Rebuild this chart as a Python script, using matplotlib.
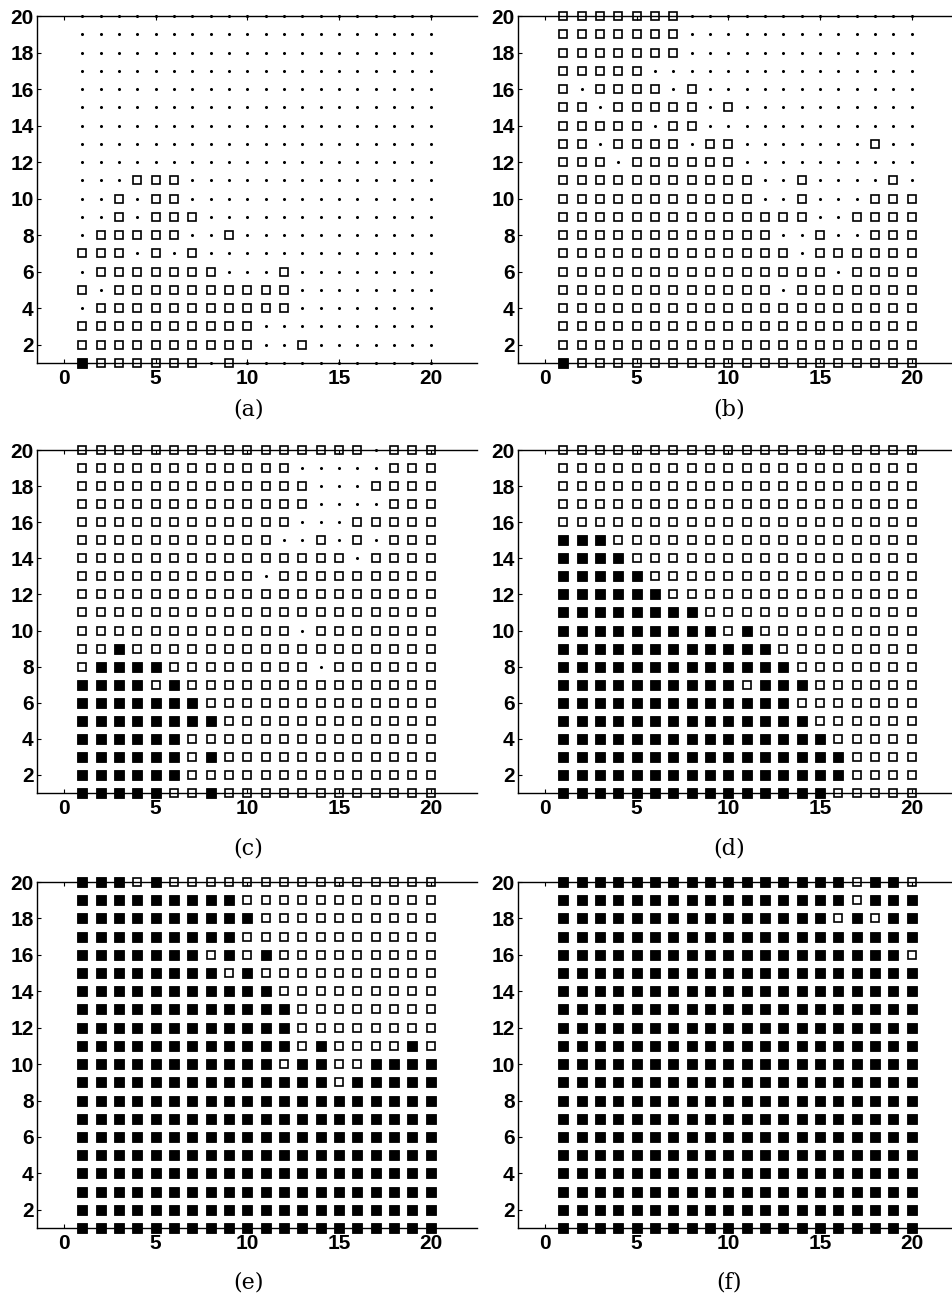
import matplotlib
matplotlib.use("Agg")
import matplotlib.pyplot as plt

# grid states, top row is y=20, bottom row is y=1, columns x=1..20
# '.' = dot, 'o' = open square, '#' = filled square
panel_a = [
    "....................",
    "....................",
    "....................",
    "....................",
    "....................",
    "....................",
    "....................",
    "....................",
    "....................",
    "...ooo..............",
    "..o.oo..............",
    "..o.ooo.............",
    ".ooooo..o...........",
    "ooo.o.o.............",
    ".ooooooo...o........",
    "o.oooooooooo........",
    ".ooooooooooo........",
    "oooooooooo..........",
    "oooooooooo..o.......",
    "#oooooo.o...........",
]

panel_b = [
    "ooooooo.............",
    "ooooooo.............",
    "ooooooo.............",
    "ooooo...............",
    "o.oooo.o............",
    "oo.ooooo.o..........",
    "ooooo.oo............",
    "oo.oooo.oo.......o..",
    "ooo.oooooo..........",
    "ooooooooooo..o....o.",
    "ooooooooooo..o...ooo",
    "oooooooooooooo..oooo",
    "oooooooooooo..o..ooo",
    "ooooooooooooo.oooooo",
    "ooooooooooooooo.oooo",
    "oooooooooooo.ooooooo",
    "oooooooooooooooooooo",
    "oooooooooooooooooooo",
    "oooooooooooooooooooo",
    "#ooooooooooooooooooo",
]

panel_c = [
    "oooooooooooooooo.ooo",
    "oooooooooooo.....ooo",
    "ooooooooooooo...oooo",
    "ooooooooooooo....ooo",
    "oooooooooooo...ooooo",
    "ooooooooooo..o.o.ooo",
    "ooooooooooooooo.oooo",
    "oooooooooo.ooooooooo",
    "oooooooooooooooooooo",
    "oooooooooooooooooooo",
    "oooooooooooo.ooooooo",
    "oo#ooooooooooooooooo",
    "o####oooooooo.oooooo",
    "####o#oooooooooooooo",
    "#######ooooooooooooo",
    "########oooooooooooo",
    "######oooooooooooooo",
    "######o#oooooooooooo",
    "######oooooooooooooo",
    "#####oo#oooooooooooo",
]

panel_d = [
    "oooooooooooooooooooo",
    "oooooooooooooooooooo",
    "oooooooooooooooooooo",
    "oooooooooooooooooooo",
    "oooooooooooooooooooo",
    "###ooooooooooooooooo",
    "####oooooooooooooooo",
    "#####ooooooooooooooo",
    "######oooooooooooooo",
    "########oooooooooooo",
    "#########o#ooooooooo",
    "############oooooooo",
    "#############ooooooo",
    "##########o###oooooo",
    "#############ooooooo",
    "##############oooooo",
    "###############ooooo",
    "################oooo",
    "################oooo",
    "###############ooooo",
]

panel_e = [
    "###o#ooooooooooooooo",
    "#########ooooooooooo",
    "##########oooooooooo",
    "#########ooooooooooo",
    "#######o#o#ooooooooo",
    "########o#oooooooooo",
    "###########ooooooooo",
    "############oooooooo",
    "############oooooooo",
    "############o#oooo#o",
    "###########o##oo####",
    "##############o#####",
    "####################",
    "####################",
    "####################",
    "####################",
    "####################",
    "####################",
    "####################",
    "####################",
]

panel_f = [
    "################o##o",
    "################o###",
    "###############o#o##",
    "####################",
    "###################o",
    "####################",
    "####################",
    "####################",
    "####################",
    "####################",
    "####################",
    "####################",
    "####################",
    "####################",
    "####################",
    "####################",
    "####################",
    "####################",
    "####################",
    "####################",
]

captions = ["(a)", "(b)", "(c)", "(d)", "(e)", "(f)"]
x_ticks = [0, 5, 10, 15, 20]
y_ticks = [2, 4, 6, 8, 10, 12, 14, 16, 18, 20]

panels = [panel_a, panel_b, panel_c, panel_d, panel_e, panel_f]
for p in panels:
    assert len(p) == 20 and all(len(r) == 20 for r in p)

W, H = 952, 1301
fig = plt.figure(figsize=(W / 100, H / 100), dpi=100)

lefts = [36.5, 517.5]
rows_px = [(16, 363), (450, 793), (882, 1228)]
ax_w = 440
cap_y = [410, 848, 1282]

for k, grid in enumerate(panels):
    col, row = k % 2, k // 2
    top, bot = rows_px[row]
    ax = fig.add_axes([lefts[col] / W, 1 - bot / H, ax_w / W, (bot - top) / H])

    pts = {".": ([], []), "o": ([], []), "#": ([], [])}
    for i, line in enumerate(grid):
        y = 20 - i
        for j, c in enumerate(line):
            pts[c][0].append(j + 1)
            pts[c][1].append(y)

    ax.plot(*pts["."], ls="none", marker="o", ms=1.2, color="black", clip_on=False)
    ax.plot(*pts["o"], ls="none", marker="s", ms=6.0, mfc="none", mec="black",
            mew=1.2, clip_on=False)
    ax.plot(*pts["#"], ls="none", marker="s", ms=6.6, mfc="black", mec="black",
            mew=0.6, clip_on=False)

    ax.set_xlim(-1.5, 22.5)
    ax.set_ylim(1, 20)
    ax.set_xticks(x_ticks)
    ax.set_yticks(y_ticks)
    ax.tick_params(direction="in", length=3, width=0.8, top=True, right=False,
                   labelsize=15, pad=2)
    ax.tick_params(axis="x", pad=4)
    for lab in ax.get_xticklabels() + ax.get_yticklabels():
        lab.set_fontweight("bold")
        lab.set_fontfamily("Liberation Sans")
    ax.spines["right"].set_visible(False)
    for s in ax.spines.values():
        s.set_linewidth(1.0)

    cx = lefts[col] + 212
    fig.text(cx / W, 1 - cap_y[row] / H, captions[k], ha="center", va="center",
             fontsize=16, family="DejaVu Serif")

fig.savefig("out.png", dpi=100)
